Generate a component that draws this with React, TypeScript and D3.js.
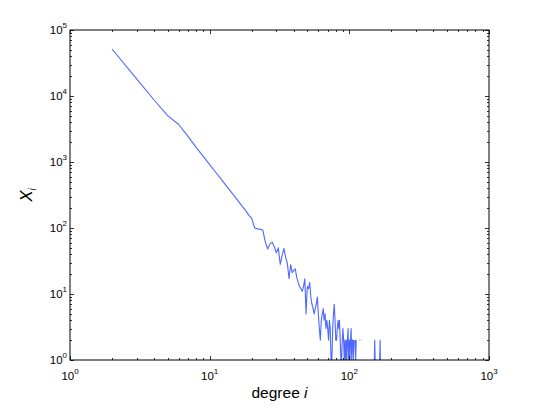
import React from "react";
import * as d3 from "d3";

const firstDegree = 2;
const counts = [
  51500, 18200, 8700, 5050, 3700, 2450, 1670, 1220, 915, 705,
  560, 450, 368, 306, 257, 216, 187, 158, 140, 100,
  97, 96, 93, 62, 48, 57, 61, 52, 42, 50,
  28, 38, 49, 36, 29, 17, 28, 21, 23, 24,
  18, 15, 13, 12, 11, 13, 17, 5, 13, 12,
  15, 9, 7, 6, 5, 6, 7, 9, 5, 3,
  2, 4, 5, 6, 4, 5, 3, 4, 3, 2,
  4, 3, 1, 1, 3, 5, 7, 4, 2, 2,
  3, 4, 3, 4, 2, 1, 1, 2, 3, 2,
  1, 2, 1, 2, 1, 2, 3, 1, 2, 1,
  2, 3, 1, 2, 2, 1, 2, 0, 2, 1,
  2, 0, 1, 0, 2, 0, 2, 2, 0, 2,
  2, 0, 1, 0, 1, 0, 0, 1, 0, 0,
  1, 0, 0, 0, 1, 0, 0, 0, 1, 0,
  0, 0, 0, 1, 0, 0, 0, 0, 0, 1,
  2, 1, 0, 0, 0, 0, 0, 1, 0, 0,
  0, 0, 0, 1, 2, 1,
];
const xDomain = [1, 1000];
const yDomain = [1, 100000];
const xTickExps = [0, 1, 2, 3];
const yTickExps = [0, 1, 2, 3, 4, 5];
const xLabel = "degree ";
const xLabelVar = "i";
const yLabelVar = "X";
const yLabelSub = "i";

const W = 540;
const H = 406;
const L = 70, R = 489, T = 30, B = 360;
const font = "'Liberation Sans', Arial, sans-serif";

export default function App() {
  const x = d3.scaleLog().domain(xDomain).range([L, R]);
  const y = d3.scaleLog().domain(yDomain).range([B, T]);
  const data = counts.map((v, k) => ({ d: firstDegree + k, v }));
  const line = d3
    .line<{ d: number; v: number }>()
    .defined((p) => p.v > 0)
    .x((p) => x(p.d))
    .y((p) => y(p.v));
  const path = line(data) || "";

  const isMajor = (t: number) => Math.abs(Math.log10(t) - Math.round(Math.log10(t))) < 1e-9;
  const xt = x.ticks();
  const yt = y.ticks();
  const MAJ = 4, MIN = 2;

  const ticks: React.ReactNode[] = [];
  xt.forEach((t, k) => {
    const px = Math.round(x(t)) + 0.5;
    const len = isMajor(t) ? MAJ : MIN;
    ticks.push(<line key={"xb" + k} x1={px} x2={px} y1={B} y2={B - len} stroke="#000" strokeWidth={0.8} />);
    ticks.push(<line key={"xt" + k} x1={px} x2={px} y1={T} y2={T + len} stroke="#000" strokeWidth={0.8} />);
  });
  yt.forEach((t, k) => {
    const py = Math.round(y(t)) + 0.5;
    const len = isMajor(t) ? MAJ : MIN;
    ticks.push(<line key={"yl" + k} x1={L} x2={L + len} y1={py} y2={py} stroke="#000" strokeWidth={0.8} />);
    ticks.push(<line key={"yr" + k} x1={R} x2={R - len} y1={py} y2={py} stroke="#000" strokeWidth={0.8} />);
  });

  return (
    <svg
      width={W}
      height={H}
      viewBox={`0 0 ${W} ${H}`}
      style={{ position: "absolute", left: 0, top: 0, background: "#fff" }}
      fontFamily={font}
    >
      <rect x={0} y={0} width={W} height={H} fill="#fff" />
      <defs>
        <clipPath id="plotclip">
          <rect x={L} y={T} width={R - L} height={B - T} />
        </clipPath>
      </defs>
      <path d={path} fill="none" stroke="#2f4dff" strokeWidth={1.1} strokeOpacity={0.85} strokeLinejoin="round" clipPath="url(#plotclip)" />
      <rect x={L} y={T} width={R - L} height={B - T} fill="none" stroke="#000" strokeWidth={1} />
      {ticks}
      {xTickExps.map((e) => (
        <text key={"xl" + e} x={x(Math.pow(10, e))} y={380} textAnchor="middle" fontSize={11.5} fill="#000">
          10<tspan dy={-6} fontSize={8}>{e}</tspan>
        </text>
      ))}
      {yTickExps.map((e) => (
        <text key={"yl" + e} x={L - 3} y={y(Math.pow(10, e)) + 4} textAnchor="end" fontSize={11.5} fill="#000">
          10<tspan dy={-6} fontSize={8}>{e}</tspan>
        </text>
      ))}
      <text x={(L + R) / 2} y={398} textAnchor="middle" fontSize={15.5} fill="#000">
        {xLabel}
        <tspan fontStyle="italic">{xLabelVar}</tspan>
      </text>
      <text transform={`translate(32,${(T + B) / 2}) rotate(-90)`} textAnchor="middle" fontSize={17} fill="#000">
        <tspan fontStyle="italic">{yLabelVar}</tspan>
        <tspan fontStyle="italic" fontSize={10} dy={4}>{yLabelSub}</tspan>
      </text>
    </svg>
  );
}
